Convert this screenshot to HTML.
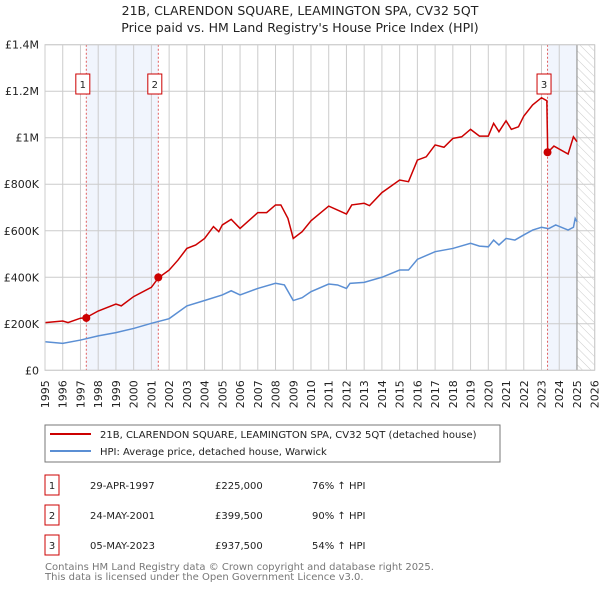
<!DOCTYPE html>
<html><head><meta charset="utf-8"><style>
body{margin:0;background:#fff;font-family:"DejaVu Sans","Liberation Sans",sans-serif;}
svg text{font-family:"DejaVu Sans","Liberation Sans",sans-serif;}
</style></head><body>
<svg id="c" width="600" height="590" xmlns="http://www.w3.org/2000/svg">
<defs><pattern id="hatch" width="6" height="6" patternUnits="userSpaceOnUse" patternTransform="rotate(-45)"><line x1="0" y1="0" x2="0" y2="6" stroke="#ccc" stroke-width="1"/></pattern></defs>
<text x="300" y="15" text-anchor="middle" font-size="12.5" fill="#222">21B, CLARENDON SQUARE, LEAMINGTON SPA, CV32 5QT</text>
<text x="300" y="32" text-anchor="middle" font-size="12.5" fill="#222">Price paid vs. HM Land Registry's House Price Index (HPI)</text>
<g id="plot"></g>
<rect x="45" y="425" width="455" height="37" fill="#fff" stroke="#777"/>
<line x1="50" y1="434" x2="91" y2="434" stroke="#cc0000" stroke-width="2"/>
<text x="100" y="438" font-size="10" fill="#222">21B, CLARENDON SQUARE, LEAMINGTON SPA, CV32 5QT (detached house)</text>
<line x1="50" y1="451" x2="91" y2="451" stroke="#5b8fd4" stroke-width="2"/>
<text x="100" y="455" font-size="10" fill="#222">HPI: Average price, detached house, Warwick</text>
<g id="table" font-size="10" fill="#222"></g>
<text x="45" y="570" font-size="10" fill="#777">Contains HM Land Registry data © Crown copyright and database right 2025.</text>
<text x="45" y="580" font-size="10" fill="#777">This data is licensed under the Open Government Licence v3.0.</text>
</svg>
<script>
const hpiYears=[1995,1996,1997,1998,1999,2000,2001,2002,2003,2004,2005,2005.5,2006,2007,2008,2008.5,2009,2009.5,2010,2011,2011.5,2012,2012.2,2013,2014,2015,2015.5,2016,2017,2018,2019,2019.5,2020,2020.3,2020.6,2021,2021.5,2022,2022.5,2023,2023.4,2023.8,2024.5,2024.8,2024.9,2025];
const hpiValues=[123,116,130,148,162,180,202,222,277,300,324,342,324,352,374,367,300,312,338,371,367,352,374,378,400,431,431,477,510,524,546,534,531,560,539,567,560,582,603,615,609,625,603,615,653,639];
const priceYears=[1995,1996,1996.3,1997,1997.3,1998,1999,1999.3,2000,2001,2001.4,2002,2002.5,2003,2003.5,2004,2004.5,2004.8,2005,2005.5,2006,2007,2007.5,2008,2008.3,2008.7,2009,2009.5,2010,2011,2011.5,2012,2012.3,2013,2013.3,2014,2015,2015.5,2016,2016.5,2017,2017.5,2018,2018.5,2019,2019.5,2020,2020.3,2020.6,2021,2021.3,2021.7,2022,2022.5,2023,2023.3,2023.35,2023.7,2024.5,2024.8,2025];
const priceValues=[205,212,205,224,226,255,285,277,317,357,398,431,474,524,539,567,618,596,625,649,610,678,678,711,711,653,567,596,643,706,689,672,711,718,708,764,818,811,904,918,969,959,997,1004,1036,1007,1007,1062,1026,1073,1036,1047,1093,1141,1172,1159,937,964,930,1004,983];
const saleLabels=["1","2","3"];
const saleYears=[1997.33,2001.39,2023.34];
const saleValues=[225,399.5,937.5];
const saleDates=["29-APR-1997","24-MAY-2001","05-MAY-2023"];
const salePrices=["£225,000","£399,500","£937,500"];
const saleHpi=["76% ↑ HPI","90% ↑ HPI","54% ↑ HPI"];
const yTicks=[0,200,400,600,800,1000,1200,1400];
const yTickLabels=["£0","£200K","£400K","£600K","£800K","£1M","£1.2M","£1.4M"];
const xTicks=[1995,1996,1997,1998,1999,2000,2001,2002,2003,2004,2005,2006,2007,2008,2009,2010,2011,2012,2013,2014,2015,2016,2017,2018,2019,2020,2021,2022,2023,2024,2025,2026];

const NS="http://www.w3.org/2000/svg";
const X0=45,X1=594.7,Y0=370.3,Y1=44.7;
const sx=y=>X0+(y-1995)/31*(X1-X0);
const sy=v=>Y0-v/1400*(Y0-Y1);
const plot=document.getElementById('plot');
function mk(t,a,p){const e=document.createElementNS(NS,t);for(const k in a)e.setAttribute(k,a[k]);(p||plot).appendChild(e);return e;}
let e;
e=mk('rect',{x:sx(saleYears[0]),y:Y1,width:sx(saleYears[1])-sx(saleYears[0]),height:Y0-Y1,fill:'#eef3fc',opacity:0.8});


e=mk('rect',{x:sx(saleYears[2]),y:Y1,width:sx(2025)-sx(saleYears[2]),height:Y0-Y1,fill:'#eef3fc',opacity:0.8});


e=mk('rect',{x:sx(2025),y:Y1,width:X1-sx(2025),height:Y0-Y1,fill:'url(#hatch)'});


xTicks.forEach((t,i)=>{
  e=mk('line',{x1:sx(t),x2:sx(t),y1:Y1,y2:Y0,stroke:'#ccc','stroke-width':1});
  
  
  const tx=sx(t)+4;
  e=mk('text',{x:0,y:0,transform:`translate(${tx},${Y0+10}) rotate(-90)`,'text-anchor':'end','font-size':11,fill:'#222'});
  e.textContent=t;
  
  
});
yTicks.forEach((t,i)=>{
  e=mk('line',{x1:X0,x2:X1,y1:sy(t),y2:sy(t),stroke:'#ccc','stroke-width':1});
  
  
  e=mk('text',{x:39,y:sy(t)+4,'text-anchor':'end','font-size':11,fill:'#222'});
  e.textContent=yTickLabels[i];
  
  
});
e=mk('line',{x1:sx(2025),x2:sx(2025),y1:Y1,y2:Y0,stroke:'#999','stroke-width':1.2});


saleYears.forEach((y,i)=>{
  e=mk('line',{x1:sx(y),x2:sx(y),y1:Y1,y2:Y0,stroke:'#e06060','stroke-width':1,'stroke-dasharray':'2,2'});
  
  
});
e=mk('polyline',{points:hpiYears.map((y,i)=>sx(y)+','+sy(hpiValues[i])).join(' '),fill:'none',stroke:'#5b8fd4','stroke-width':1.5});


e=mk('polyline',{points:priceYears.map((y,i)=>sx(y)+','+sy(priceValues[i])).join(' '),fill:'none',stroke:'#cc0000','stroke-width':1.5});


saleYears.forEach((y,i)=>{
  e=mk('circle',{cx:sx(y),cy:sy(saleValues[i]),r:4,fill:'#cc0000'});
  
  
  const bx=sx(y)-10.5;
  e=mk('rect',{x:bx,y:74,width:14,height:20,fill:'#fff',stroke:'#cc0000','stroke-width':1});
  
  
  e=mk('text',{x:bx+7,y:88,'text-anchor':'middle','font-size':10,fill:'#222'});
  e.textContent=saleLabels[i];
  
  
});
e=mk('rect',{x:X0,y:Y1,width:X1-X0,height:Y0-Y1,fill:'none',stroke:'#ccc'});


const tb=document.getElementById('table');
saleLabels.forEach((l,i)=>{
  const yy=475+i*30;
  e=mk('rect',{x:45,y:yy,width:14,height:20,fill:'#fff',stroke:'#cc0000'},tb);
  
  
  const cols=[[52,l,'middle'],[90,saleDates[i],'start'],[215,salePrices[i],'start'],[312,saleHpi[i],'start']];
  cols.forEach(c=>{
    e=mk('text',{x:c[0],y:yy+14,'text-anchor':c[2],'font-size':10,fill:'#222'},tb);
    e.textContent=c[1];
    
    
  });
});
</script>
</body></html>
